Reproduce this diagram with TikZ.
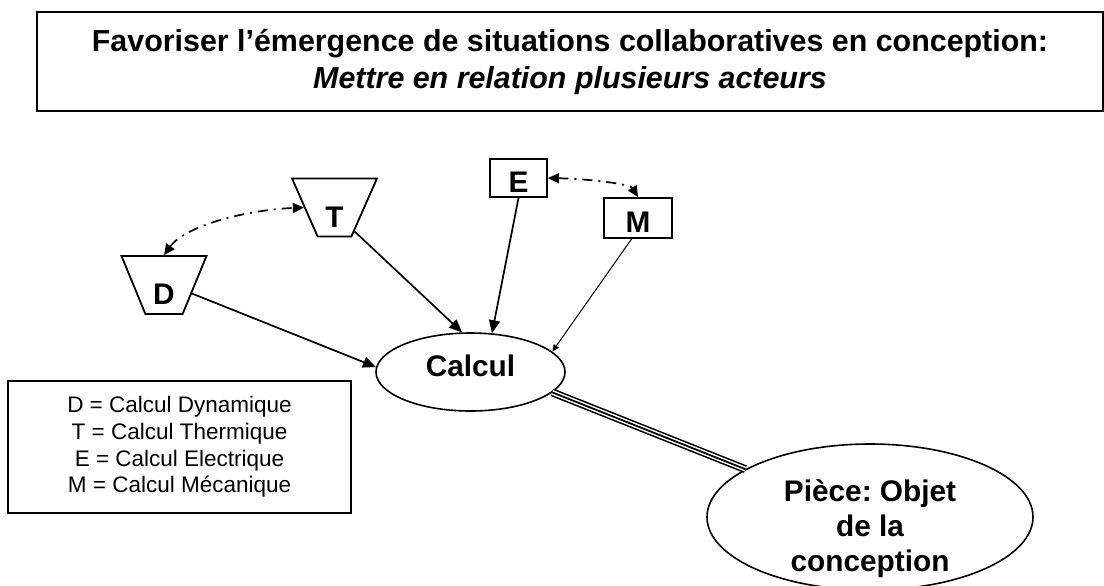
\documentclass[tikz,border=0pt]{standalone}
\usepackage{fontspec}
\setmainfont{Liberation Sans}
\usetikzlibrary{shapes.geometric,arrows.meta}
\frenchspacing

\begin{document}
\begin{tikzpicture}[x=0.5pt,y=-0.5pt,
  lbl/.style={font=\fontsize{14.9}{17.5}\selectfont\bfseries},
  calctrap/.style={draw, line width=0.9pt, trapezium, shape border rotate=180,
    trapezium left angle=70.5, trapezium right angle=70.5, trapezium stretches=true,
    minimum width=42.5pt, minimum height=29pt, inner sep=0pt, text height=19.5pt, lbl},
  calcbox/.style={draw, line width=0.9pt, rectangle, inner sep=0pt, text height=14.5pt, lbl},
  arr/.style={-{Triangle[length=6.5pt,width=5.5pt]}, line width=0.85pt},
  linkdd/.style={{Triangle[length=5.5pt,width=5pt]}-{Triangle[length=5.5pt,width=5pt]},
    line width=0.85pt, dash pattern=on 5pt off 3pt on 1pt off 3pt}]
\useasboundingbox (0,0) rectangle (1104,585);
\node[draw, line width=1pt, minimum width=533pt, minimum height=49.5pt, align=center, font=\fontsize{15.2}{18.5}\selectfont\bfseries] (title) at (570,61.5) {Favoriser l’émergence de situations collaboratives en conception:\\\textit{Mettre en relation plusieurs acteurs}};
\node[calctrap] (D) at (164,285) {D};
\node[calctrap] (T) at (334.5,207.5) {T};
\node[calcbox, minimum width=28.5pt, minimum height=19pt] (E) at (518.5,178) {E};
\node[calcbox, minimum width=34pt, minimum height=20pt] (M) at (638,218) {M};
\node[draw, ellipse, line width=0.8pt, minimum width=94.5pt, minimum height=39pt, inner sep=0pt, text depth=6pt, lbl] (calcul) at (470.5,372) {Calcul};
\node[draw, ellipse, line width=0.8pt, minimum width=163pt, minimum height=73pt] (piece) at (870,517) {};
\node[lbl, align=center] (piecetxt) at (870,529) {Pièce: Objet\\de la\\conception};
\node[draw, line width=0.9pt, minimum width=171.5pt, minimum height=66pt, align=center, font=\fontsize{11.25}{13.3}\selectfont] (legend) at (179.5,447) {D = Calcul Dynamique\\T = Calcul Thermique\\E = Calcul Electrique\\M = Calcul Mécanique};
\draw[arr] (D.-17) -- (calcul.177);
\draw[arr] (T.-50) -- (calcul.102);
\draw[arr] (E.south) -- (calcul.61);
\draw[-{Triangle[length=3.5pt,width=3pt]}, line width=0.5pt] (M.-107) -- (calcul.14);
\draw[linkdd] (D.north) .. controls (185,226) and (245,210) .. (T.west);
\draw[linkdd] (E.east) .. controls (590,179) and (630,184) .. (M.north);
\draw[double, line width=0.8pt, double distance=2.4pt] (calcul.-14) -- (piece.159);
\draw[line width=0.9pt] (calcul.-14) -- (piece.159);
\end{tikzpicture}
\end{document}
